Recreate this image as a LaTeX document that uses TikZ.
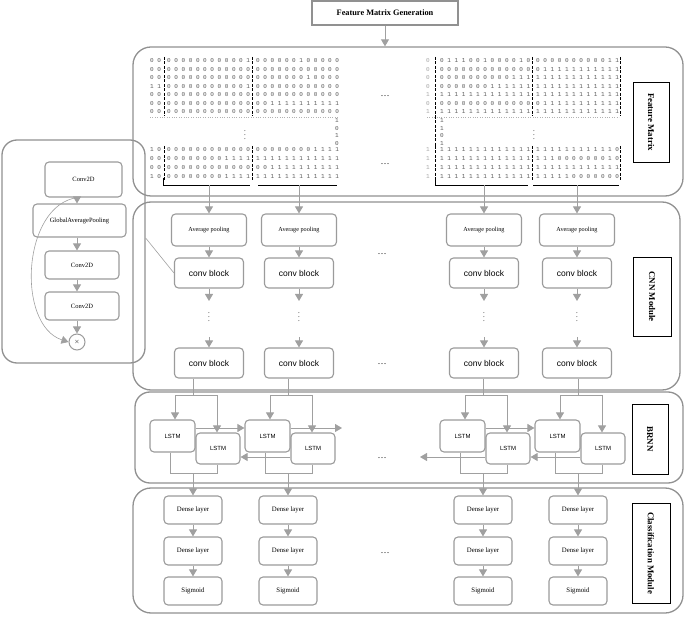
\documentclass[tikz,border=0pt]{standalone}
\usepackage{fontspec}
\setmainfont{Liberation Serif}
\setsansfont{Liberation Sans}
\setmonofont{Liberation Mono}
\usetikzlibrary{arrows.meta}
\definecolor{edgegray}{RGB}{160,160,160}
\definecolor{framegray}{RGB}{145,145,145}
\definecolor{boxgray}{RGB}{155,155,155}

\begin{document}
\begin{tikzpicture}[x=1pt,y=-1pt,
  panel/.style={draw=framegray,line width=1.3pt,rounded corners=18pt,inner sep=0pt},
  box/.style={draw=boxgray,line width=1.1pt,rounded corners=4pt,fill=white,inner sep=0pt,align=center},
  tag/.style={draw=black,line width=0.6pt,inner sep=0pt,font=\fontsize{8.8}{10}\selectfont\bfseries},
  arr/.style={draw=edgegray,line width=0.9pt,-{Triangle[width=8pt,length=7pt]}},
  link/.style={draw=edgegray,line width=0.9pt},
  bitrow/.style={anchor=west,inner sep=0pt,font=\fontsize{6}{6}\ttfamily,text=black!65},
  sepline/.style={line width=0.9pt,dash pattern=on 3pt off 1.5pt},
  etc/.style={inner sep=0pt,font=\fontsize{9}{9}\selectfont},
  vdot/.style={inner sep=0pt,font=\fontsize{7}{7}\selectfont},
  pool/.style={box,minimum width=75pt,minimum height=32pt,font=\fontsize{6.2}{7}\selectfont},
  convb/.style={box,minimum width=69pt,minimum height=30pt,font=\sffamily\fontsize{8.5}{9}\selectfont},
  lstm/.style={box,minimum width=44pt,minimum height=31pt,font=\sffamily\fontsize{6}{7}\selectfont},
  dense/.style={box,minimum width=58pt,minimum height=28pt,font=\fontsize{6.8}{8}\selectfont},
  zoomed/.style={box,font=\fontsize{6.5}{7}\selectfont}]
\useasboundingbox (0,0) rectangle (685,617);

% modules
\node[box,rounded corners=0pt,draw=framegray,minimum width=146pt,minimum height=24pt,
  font=\fontsize{8.3}{9}\selectfont\bfseries] (gen) at (385,13) {Feature Matrix Generation};
\node[panel,minimum width=550pt,minimum height=149pt] (fm) at (408,121.5) {};
\node[panel,minimum width=547pt,minimum height=188pt] (cnn) at (406.5,296) {};
\node[panel,minimum width=548pt,minimum height=91pt,rounded corners=15pt] (brnn) at (409,437.5) {};
\node[panel,minimum width=550pt,minimum height=125pt] (cls) at (408,550.5) {};
\node[panel,minimum width=143pt,minimum height=223pt,rounded corners=15pt] (zoom) at (73.5,251.5) {};
\draw[arr] (gen) -- (gen |- fm.north);

\node[tag,minimum width=36pt,minimum height=80pt] (fmtag) at (651,122) {\rotatebox{-90}{Feature Matrix}};
\node[tag,minimum width=38pt,minimum height=79pt] (cnntag) at (652,296.5) {\rotatebox{-90}{CNN Module}};
\node[tag,minimum width=36pt,minimum height=70pt] (brnntag) at (650,439) {\rotatebox{-90}{BRNN}};
\node[tag,minimum width=38pt,minimum height=100pt] (clstag) at (651,553) {\rotatebox{-90}{Classification Module}};

% feature matrix
\foreach \p/\q/\r/\s/\t/\u [count=\i] in {
  0 0/0 0 0 0 0 0 0 0 0 0 0 1/0 0 0 0 0 0 1 0 0 0 0 0/0/0 1 1 1 0 0 1 0 0 0 0 1 0/0 0 0 0 0 0 0 0 0 0 1 1,
  0 0/0 0 0 0 0 0 0 0 0 0 0 0/0 0 0 0 0 0 0 0 0 0 0 0/0/0 0 0 0 0 0 0 0 0 0 0 0 0/0 1 1 1 1 1 1 1 1 1 1 1,
  0 0/0 0 0 0 0 0 0 0 0 0 0 0/0 0 0 0 0 0 0 1 0 0 0 0/0/0 0 0 0 0 0 0 0 0 0 1 1 1/1 1 1 1 1 1 1 1 1 1 1 1,
  1 1/0 0 0 0 0 0 0 0 0 0 0 1/0 0 0 0 0 0 0 0 0 0 0 0/0/0 0 0 0 0 0 0 1 1 1 1 1 1/1 1 1 1 1 1 1 1 1 1 1 1,
  0 0/0 0 0 0 0 0 0 0 0 0 0 0/0 0 0 0 0 0 0 0 0 0 0 0/1/1 1 1 1 1 1 1 1 1 1 1 1 1/1 1 1 1 1 1 1 1 1 1 1 1,
  0 0/0 0 0 0 0 0 0 0 0 0 0 0/0 0 1 1 1 1 1 1 1 1 1 1/0/0 0 0 0 0 0 0 0 0 0 0 0 0/0 1 1 1 1 1 1 1 1 1 1 1,
  0 0/0 0 0 0 0 0 0 0 0 0 0 0/0 0 0 0 0 0 0 0 0 0 0 0/1/1 1 1 1 1 1 1 1 1 1 1 1 1/1 1 1 1 1 1 1 1 1 1 1 1}{
  \node[bitrow] (ta\i) at (150,{61+8.5*(\i-1)}) {\p};
  \node[bitrow] (tb\i) at (167,{61+8.5*(\i-1)}) {\q};
  \node[bitrow] (tc\i) at (256,{61+8.5*(\i-1)}) {\r};
  \node[bitrow,text=black!35] (td\i) at (426,{61+8.5*(\i-1)}) {\s};
  \node[bitrow] (te\i) at (440,{61+8.5*(\i-1)}) {\t};
  \node[bitrow] (tf\i) at (536,{61+8.5*(\i-1)}) {\u};
}
\foreach \p/\q/\r/\s/\t/\u [count=\i] in {
  1 0/0 0 0 0 0 0 0 0 0 0 0 0/0 0 0 0 0 0 0 0 1 1 1 1/1/1 1 1 1 1 1 1 1 1 1 1 1 1/1 1 1 1 1 1 1 1 1 1 1 0,
  0 0/0 0 0 0 0 0 0 0 1 1 1 1/1 1 1 1 1 1 1 1 1 1 1 1/1/1 1 1 1 1 1 1 1 1 1 1 1 1/1 1 1 0 0 0 0 0 0 0 1 0,
  0 0/0 0 0 0 0 0 0 0 0 0 0 0/0 0 1 1 1 1 1 1 1 1 1 1/1/1 1 1 1 1 1 1 1 1 1 1 1 1/1 1 1 1 1 1 1 1 1 1 1 1,
  1 0/0 0 0 0 0 0 0 0 1 1 1 1/1 1 1 1 1 1 1 1 1 1 1 1/1/1 1 1 1 1 1 1 1 1 1 1 1 1/1 1 1 1 1 0 0 0 0 0 0 0}{
  \node[bitrow] (ba\i) at (150,{150+9*(\i-1)}) {\p};
  \node[bitrow] (bb\i) at (167,{150+9*(\i-1)}) {\q};
  \node[bitrow] (bc\i) at (256,{150+9*(\i-1)}) {\r};
  \node[bitrow,text=black!35] (bd\i) at (426,{150+9*(\i-1)}) {\s};
  \node[bitrow] (be\i) at (440,{150+9*(\i-1)}) {\t};
  \node[bitrow] (bf\i) at (536,{150+9*(\i-1)}) {\u};
}
\foreach \v/\w [count=\k] in {1/1,0/1,1/0,0/1}{
  \node[bitrow] (mc\k) at (335,{121+7.5*(\k-1)}) {\v};
  \node[bitrow] (me\k) at (440,{121+7.5*(\k-1)}) {\w};
}
\draw[black!30,dotted] (150,117) -- (338,117) (427,117) -- (619,117);
\foreach \x in {164,252,435,532,620}{
  \draw[sepline] (\x,57) -- (\x,116);
  \draw[sepline] (\x,146) -- (\x,182);
}
\draw[sepline] (435,116) -- (435,146);
\draw[line width=0.8pt] (163,178) -- (163,185) -- (250,185);
\draw[line width=0.8pt] (258,185) -- (337,185);
\draw[line width=0.8pt] (435,178) -- (435,185) -- (528,185);
\draw[line width=0.8pt] (533,185) -- (619,185);
\node[vdot] (vd1) at (245,132) {$\vdots$};
\node[vdot] (vd2) at (534,132) {$\vdots$};
\node[etc] (e1) at (385,96) {\ldots};
\node[etc] (e2) at (385,164) {\ldots};

% columns
\foreach \i/\x/\m in {1/209/193,2/299/288,3/484/483,4/577/578}{
  \coordinate (br\i) at (\x,185);
  \node[pool] (ap\i) at (\x,230) {Average pooling};
  \node[convb] (cb\i) at (\x,273) {conv block};
  \node[vdot] (cd\i) at (\x,314) {$\vdots$};
  \node[convb] (cl\i) at (\x,363) {conv block};
  \coordinate (ca\i) at (\x,301);
  \coordinate (cz\i) at (\x,337);
  \draw[arr] (br\i) -- (ap\i);
  \draw[arr] (ap\i) -- (cb\i);
  \draw[arr] (cb\i) -- (ca\i);
  \draw[arr] (cz\i) -- (cl\i);
  % BRNN
  \node[lstm,minimum width=45pt,minimum height=32pt] (fw\i) at ({\m-20.5},436) {LSTM};
  \node[lstm] (bw\i) at ({\m+25},448.5) {LSTM};
  \coordinate (sp\i) at (\m,395);
  \coordinate (sl\i) at ({\m-18},395);
  \coordinate (sr\i) at ({\m+24},395);
  \coordinate (ml\i) at ({\m-23},473);
  \coordinate (mr\i) at ({\m+24},473);
  \coordinate (mg\i) at (\m,473);
  \draw[link] (cl\i.south -| sp\i) -- (sp\i);
  \draw[link] (sl\i) -- (sr\i);
  \draw[arr] (sl\i) -- (sl\i |- fw\i.north);
  \draw[arr] (sr\i) -- (sr\i |- bw\i.north);
  \draw[link] (ml\i |- fw\i.south) -- (ml\i) -- (mr\i) -- (mr\i |- bw\i.south);
  % classification
  \node[dense] (dl\i) at (\m,510) {Dense layer};
  \node[dense] (dm\i) at (\m,551) {Dense layer};
  \node[dense] (sg\i) at (\m,591) {Sigmoid};
  \draw[arr] (mg\i) -- (dl\i);
  \draw[arr] (dl\i) -- (dm\i);
  \draw[arr] (dm\i) -- (sg\i);
}
\node[etc] (e3) at (382,254) {\ldots};
\node[etc] (e4) at (382,364) {\ldots};
\node[etc] (e5) at (382,458) {\ldots};
\node[etc] (e6) at (385,553) {\ldots};
\coordinate (fwd) at (342,428);
\coordinate (bwd) at (420,457);
\draw[arr] ([yshift=8pt]fw1.east) -- ([yshift=8pt]fw2.west);
\draw[arr] ([yshift=8pt]fw2.east) -- (fwd);
\draw[arr] ([yshift=8pt]fw3.east) -- ([yshift=8pt]fw4.west);
\draw[arr] ([yshift=-8.5pt]bw2.west) -- ([yshift=-8.5pt]bw1.east);
\draw[arr] ([yshift=-8.5pt]bw3.west) -- (bwd);
\draw[arr] ([yshift=-8.5pt]bw4.west) -- ([yshift=-8.5pt]bw3.east);

% conv block in detail
\node[zoomed,minimum width=77pt,minimum height=35pt] (cv1) at (83.5,179.5) {Conv2D};
\node[zoomed,minimum width=93pt,minimum height=33pt] (gap) at (79.5,220.5) {GlobalAveragePooling};
\node[zoomed,minimum width=74pt,minimum height=28pt] (cv2) at (82,265) {Conv2D};
\node[zoomed,minimum width=74pt,minimum height=28pt] (cv3) at (82,306) {Conv2D};
\node[circle,draw=boxgray,line width=1pt,fill=white,minimum size=16pt,inner sep=0pt,
  font=\fontsize{6}{6}\selectfont] (mul) at (77,342) {$\times$};
\draw[arr] (cv1.south -| mul) -- (gap.north -| mul);
\draw[arr] (gap.south -| mul) -- (cv2.north -| mul);
\draw[arr] (cv2.south -| mul) -- (cv3.north -| mul);
\draw[arr] (cv3.south -| mul) -- (mul);
\draw[arr,line width=0.6pt] ([xshift=-6pt]cv1.south) .. controls (22,205) and (16,325) .. (mul.west);
\draw[link,line width=0.6pt] ([yshift=13.5pt]zoom.east) -- (cb1.west);
\end{tikzpicture}
\end{document}
